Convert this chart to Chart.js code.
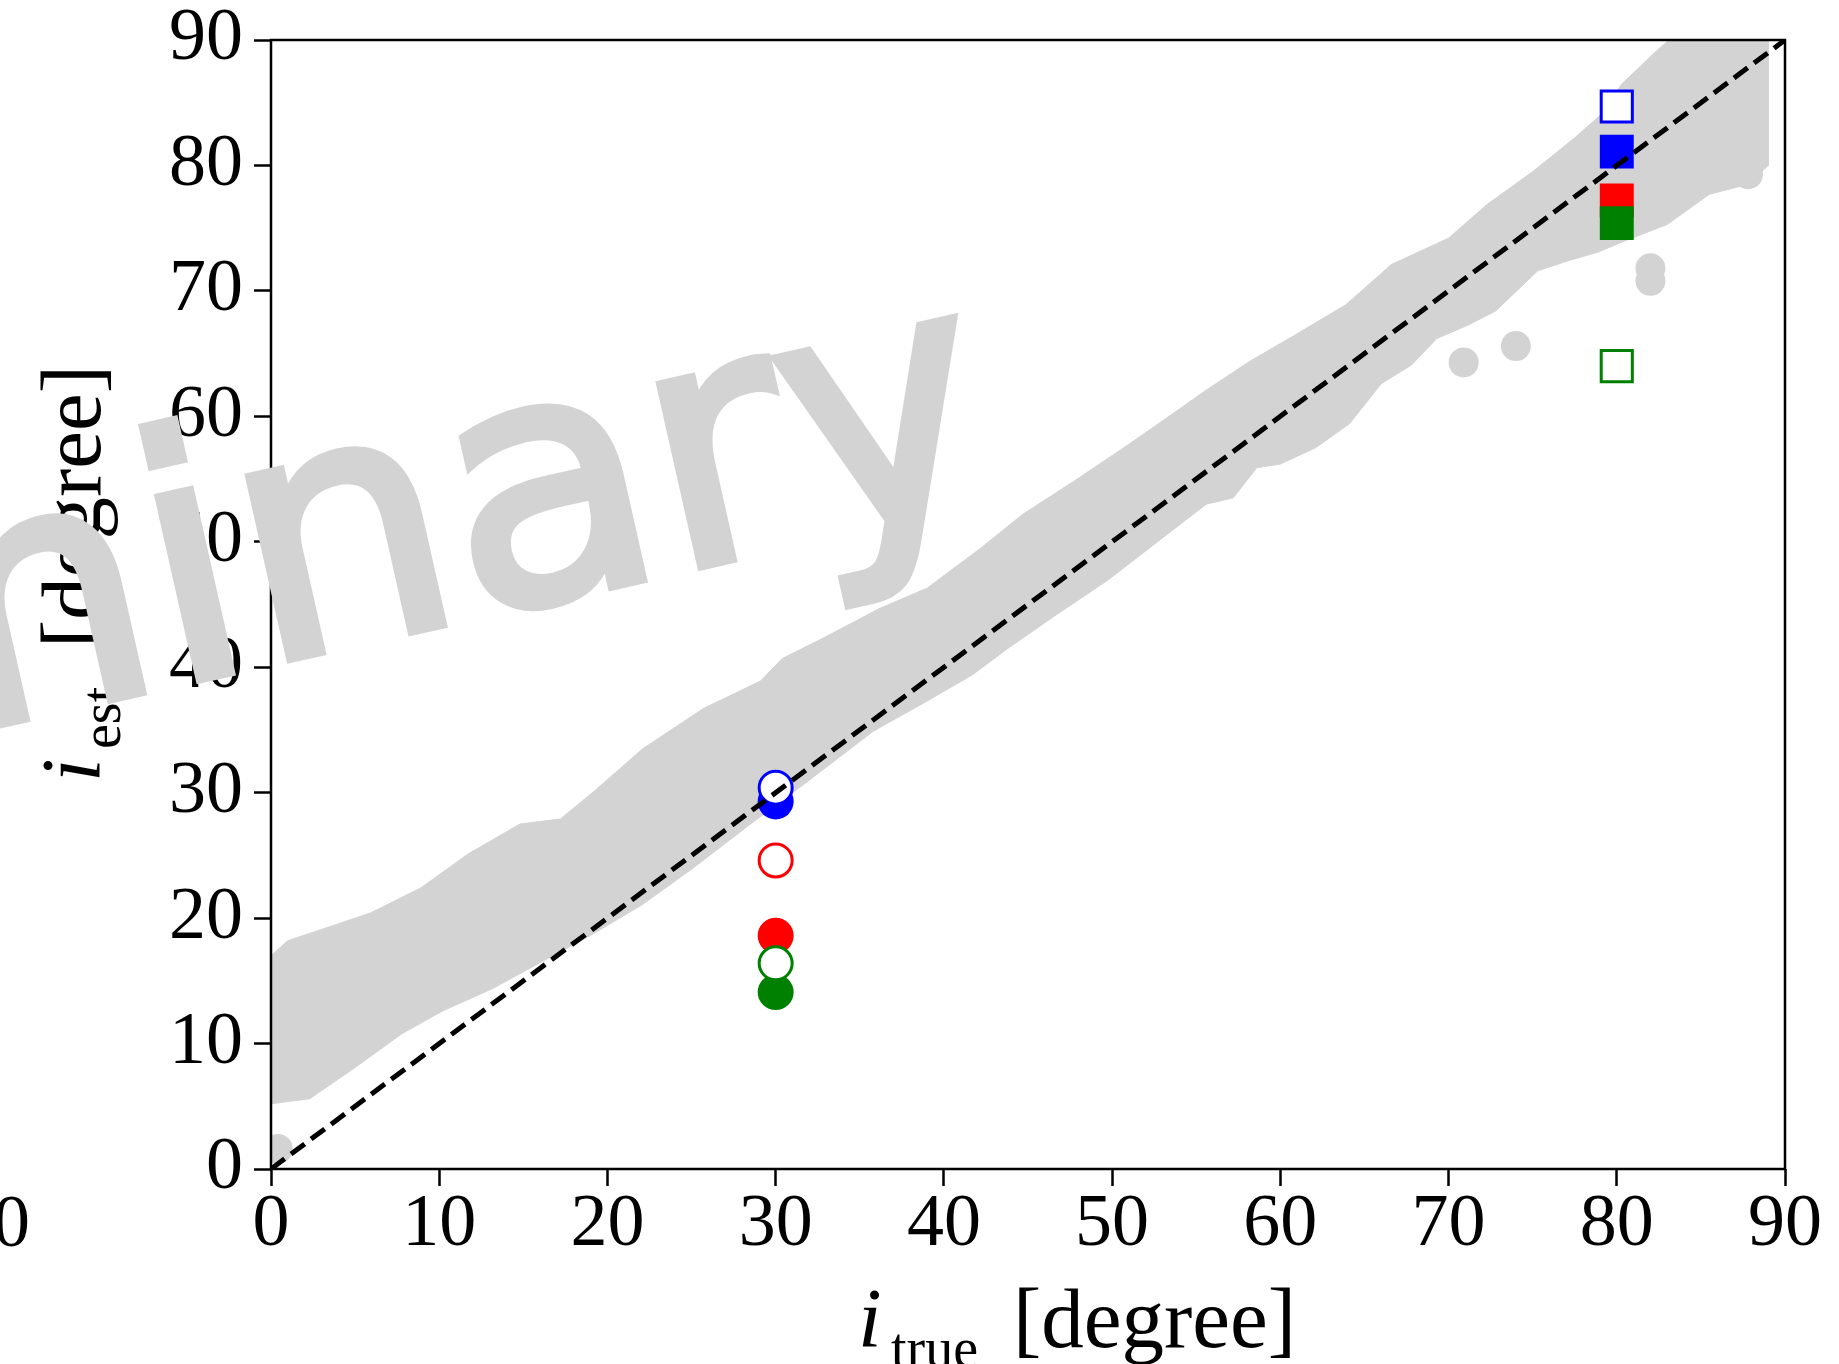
<!DOCTYPE html>
<html>
<head>
<meta charset="utf-8">
<script src="https://cdn.jsdelivr.net/npm/chart.js@4/dist/chart.umd.min.js"></script>
<style>
  html, body { margin: 0; padding: 0; background: #fff; }
  #wrap { width: 1839px; height: 1364px; }
</style>
</head>
<body>
<div id="wrap"><canvas id="chart" width="1839" height="1364"></canvas></div>
<script>
// tick values shared by both axes
const tickValues = [0, 10, 20, 30, 40, 50, 60, 70, 80, 90]

const bandUpperX = [0, 1.0, 3.9, 5.9, 8.9, 11.7, 14.8, 17.2, 19.2, 22.1, 25.7, 29.1, 30.4, 32.8, 36.2, 39.0, 42.2, 44.7, 47.7, 50.7, 53.6, 55.5, 58.2, 60.9, 63.9, 66.6, 70.0, 72.3, 75.0, 77.5, 79.1, 80.3, 82.5, 84.0, 89.0]
const bandUpperY = [17.0, 18.2, 19.5, 20.4, 22.4, 25.1, 27.5, 27.9, 30.1, 33.5, 36.7, 38.9, 40.7, 42.3, 44.7, 46.3, 49.5, 52.2, 54.8, 57.5, 60.2, 62.0, 64.4, 66.5, 68.9, 72.1, 74.2, 76.9, 79.5, 82.2, 84.1, 86.5, 89.3, 91.0, 91.0]
const bandLowerX = [89.0, 87.8, 85.5, 83.0, 80.5, 78.9, 77.1, 75.3, 72.8, 71.2, 69.3, 67.8, 66.0, 64.1, 62.1, 60.0, 58.6, 57.2, 55.6, 52.7, 49.7, 46.7, 43.8, 41.7, 39.0, 35.8, 31.9, 28.5, 25.1, 22.1, 19.1, 16.2, 13.2, 10.2, 7.8, 4.9, 2.3, 0]
const bandLowerY = [80.0, 78.5, 77.7, 75.3, 74.0, 73.1, 72.4, 71.6, 68.4, 67.3, 66.2, 64.1, 62.6, 59.4, 57.5, 56.2, 55.9, 53.5, 53.0, 50.0, 46.9, 44.2, 41.5, 39.4, 37.3, 34.9, 30.9, 27.5, 24.0, 21.1, 18.7, 16.6, 14.4, 12.6, 10.8, 8.0, 5.6, 5.2]

// isolated grey points outside the cloud
const outlierX = [0.4, 70.9, 74.0, 82.0, 82.0, 87.8]
const outlierY = [1.6, 64.3, 65.6, 71.8, 70.8, 79.3]

// coloured estimates at i_true = 30 (circles) and 80 (squares)
const trueAngles = [30, 80]
const markerStyles = ['circle', 'rect']
const estBlueFilled = [29.3, 81.1]
const estBlueOpen = [30.4, 84.7]
const estRedFilled = [18.6, 77.2]
const estRedOpen = [24.6, null]
const estGreenFilled = [14.1, 75.4]
const estGreenOpen = [16.4, 64.0]

// one-to-one reference line
const diagX = [0, 90]
const diagY = [0, 90]

const GREY = '#d3d3d3'
const SERIF = '"Liberation Serif", "Times New Roman", serif'

function zip(xs, ys) {
  return xs.map((x, i) => ({ x: x, y: ys[i] }))
}

const bandPoints = zip(bandUpperX, bandUpperY).concat(zip(bandLowerX, bandLowerY))

function markerSet(ys, color, open, order) {
  return {
    data: zip(trueAngles, ys),
    pointStyle: markerStyles,
    pointRadius: open ? [16.5, 22] : [18, 24],
    pointBorderWidth: open ? 3 : 0,
    pointBorderColor: color,
    pointBackgroundColor: open ? '#ffffff' : color,
    order: order
  }
}

const framePlugin = {
  id: 'frame',
  beforeDraw(chart) {
    const ctx = chart.ctx
    ctx.save()
    ctx.fillStyle = '#fff'
    ctx.fillRect(0, 0, chart.width, chart.height)
    ctx.restore()
  },
  afterDatasetsDraw(chart) {
    const { ctx, chartArea: a } = chart
    ctx.save()
    ctx.strokeStyle = '#000'
    ctx.lineWidth = 2.5
    ctx.strokeRect(a.left, a.top, a.right - a.left, a.bottom - a.top)
    ctx.restore()
  },
  afterDraw(chart) {
    const ctx = chart.ctx
    ctx.save()
    ctx.fillStyle = '#000'
    ctx.textBaseline = 'alphabetic'
    ctx.textAlign = 'left'

    // x axis title: i_true [degree]
    ctx.font = 'italic 85px ' + SERIF
    ctx.fillText('i', 858, 1347)
    ctx.font = '56px ' + SERIF
    ctx.fillText('true', 891, 1367)
    ctx.font = '85px ' + SERIF
    ctx.fillText('[degree]', 1013, 1347)

    // y axis title: i_est [degree], rotated
    ctx.save()
    ctx.translate(100, 782)
    ctx.rotate(-Math.PI / 2)
    ctx.font = 'italic 85px ' + SERIF
    ctx.fillText('i', 0, 0)
    ctx.font = '56px ' + SERIF
    ctx.fillText('est', 33, 20)
    ctx.font = '85px ' + SERIF
    ctx.fillText('[degree]', 134, 0)
    ctx.restore()

    // tick label of the neighbouring panel, cut by the edge
    ctx.font = '74px ' + SERIF
    ctx.textAlign = 'right'
    ctx.textBaseline = 'middle'
    ctx.fillText('90', 30, 1227)

    // watermark
    ctx.fillStyle = GREY
    ctx.strokeStyle = GREY
    ctx.lineWidth = 10
    ctx.lineJoin = 'miter'
    ctx.font = '338px "DejaVu Sans"'
    ctx.fontKerning = 'none'
    ctx.textAlign = 'left'
    ctx.textBaseline = 'alphabetic'
    ctx.translate(672, 572)
    ctx.rotate(-12.7 * Math.PI / 180)
    const lead = ctx.measureText('Prelimina').width
    ctx.fillText('Preliminary', -lead, 0)
    ctx.strokeText('Preliminary', -lead, 0)
    ctx.restore()
  }
}

function axisOptions(pad, lh) {
  return {
    type: 'linear',
    min: 0,
    max: 90,
    afterBuildTicks(scale) {
      scale.ticks = tickValues.map(v => ({ value: v }))
    },
    ticks: {
      color: '#000',
      padding: pad,
      font: { family: SERIF, size: 74, lineHeight: lh }
    },
    grid: {
      drawOnChartArea: false,
      drawTicks: true,
      tickLength: 17,
      tickWidth: 2.5,
      tickColor: '#000'
    },
    border: { display: false }
  }
}

const xAxis = axisOptions(3, 1)
xAxis.afterFit = scale => { scale.height = 195 }
const yAxis = axisOptions(11, 0.78)
yAxis.afterFit = scale => { scale.width = 271 }

new Chart(document.getElementById('chart').getContext('2d'), {
  type: 'scatter',
  data: {
    datasets: [
      {
        data: zip(diagX, diagY),
        showLine: true,
        borderColor: '#000',
        borderWidth: 5,
        borderDash: [17, 8],
        pointRadius: 0,
        order: 0
      },
      markerSet(estBlueOpen, '#0000ff', true, 1),
      markerSet(estRedOpen, '#ff0000', true, 1),
      markerSet(estGreenOpen, '#008000', true, 1),
      markerSet(estGreenFilled, '#008000', false, 2),
      markerSet(estRedFilled, '#ff0000', false, 3),
      markerSet(estBlueFilled, '#0000ff', false, 4),
      {
        data: zip(outlierX, outlierY),
        pointRadius: 15,
        pointBorderWidth: 0,
        pointBackgroundColor: GREY,
        clip: 0,
        order: 5
      },
      {
        data: bandPoints,
        showLine: true,
        fill: 'shape',
        backgroundColor: GREY,
        borderColor: GREY,
        borderWidth: 1,
        pointRadius: 0,
        clip: 0,
        order: 6
      }
    ]
  },
  options: {
    responsive: false,
    animation: false,
    devicePixelRatio: 1,
    events: [],
    layout: { padding: { left: 0, right: 54, top: 40, bottom: 0 } },
    plugins: {
      legend: { display: false },
      tooltip: { enabled: false }
    },
    scales: { x: xAxis, y: yAxis }
  },
  plugins: [framePlugin]
})
</script>
</body>
</html>
